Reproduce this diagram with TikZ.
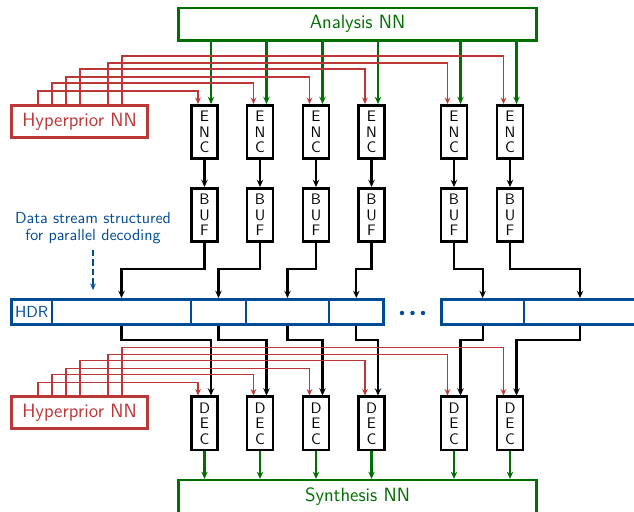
\documentclass[tikz,border=0pt]{standalone}
\usetikzlibrary{arrows.meta,calc}
\definecolor{nngreen}{RGB}{0,110,0}
\definecolor{hpred}{RGB}{190,55,55}
\definecolor{hdrblue}{RGB}{0,75,150}
\begin{document}
\begin{tikzpicture}[x=0.625pt,y=-0.625pt,
		every node/.style={font=\sffamily},
		nnbox/.style={draw,line width=1.6pt,minimum width=224pt,minimum height=20.4pt,inner sep=0pt,font=\sffamily\large},
		hpbox/.style={draw=hpred,text=hpred,line width=1.6pt,minimum width=85.3pt,minimum height=20.3pt,inner sep=0pt,font=\sffamily\large},
		codbox/.style={draw,line width=1.6pt,minimum width=16.5pt,minimum height=33.4pt,inner sep=0pt,align=center,font=\sffamily\fontsize{9.5}{9.7}\selectfont},
		segbox/.style={draw=hdrblue,line width=1.6pt,minimum height=15.9pt,inner sep=0pt},
		blk/.style={line width=1.3pt,-{Stealth[length=4.5pt,width=4pt]}},
		grn/.style={nngreen,line width=1.3pt,-{Stealth[length=4.5pt,width=4pt]}},
		hpl/.style={hpred,line width=1pt,-{Stealth[length=4pt,width=3.5pt]}}]
		\useasboundingbox (0,0) rectangle (634,512);
		
		\node[nnbox,draw=nngreen,text=nngreen] (ana) at (357.5,24.3) {Analysis NN};
		\node[nnbox,draw=nngreen,text=nngreen] (syn) at (357.5,496.5) {Synthesis NN};
		\node[hpbox] (hyp) at (79.5,121.5) {Hyperprior NN};
		\node[hpbox] (hypd) at (79.5,412.5) {Hyperprior NN};
		
		\foreach \i/\x in {1/204.5,2/260,3/316,4/371.5,5/454,6/510} {
			\node[codbox] (enc\i) at (\x,132) {E\\N\\C};
			\node[codbox] (buf\i) at (\x,215) {B\\U\\F};
			\node[codbox] (dec\i) at (\x,423.5) {D\\E\\C};
		}
		
		\node[segbox,minimum width=25.4pt,text=hdrblue] (hdr) at (31.65,312) {HDR};
		\foreach \i/\l/\r in {1/52/191,2/191/246,3/246/329,4/329/383.7,5/441.3/524,6/524/636} {
			\pgfmathsetmacro{\w}{(\r-\l)*0.625}
			\node[segbox,minimum width=\w pt] (seg\i) at ({(\l+\r)/2},312) {};
		}
		\foreach \x in {402,412.5,423}
			\fill[hdrblue] (\x,313) circle (1.4pt);
		
		\node[text=hdrblue,align=center,font=\sffamily\fontsize{10}{11}\selectfont] (note) at (93,228) {Data stream structured\\for parallel decoding};
		\draw[hdrblue,line width=0.9pt,dash pattern=on 4pt off 2pt,-{Stealth[length=4pt,width=3.5pt]},shorten >=5pt] (note.south) -- (note.south |- hdr.north);
		
		\foreach \i in {1,...,6} {
			\coordinate (ga\i) at ($(enc\i.north)+(6.5,0)$);
			\draw[grn] (ana.south -| ga\i) -- (ga\i);
			\draw[blk] (enc\i) -- (buf\i);
			\draw[blk] (buf\i.south) -- ++(0,26) -| (seg\i.north);
			\draw[blk] (seg\i.south) -- ++(0,14) -| ($(dec\i.north)+(6.5,0)$);
			\draw[grn] (dec\i.south) -- (dec\i.south |- syn.north);
		}
		
		\foreach \i/\dx/\lv in {1/-41.5/-13,2/-27.5/-21,3/-13.5/-27,4/0.5/-35,5/28.5/-41,6/42.5/-48} {
			\draw[hpl] ($(hyp.north)+(\dx,0)$) |- ($(enc\i.north)+(-6.5,\lv)$) -- ($(enc\i.north)+(-6.5,0)$);
			\draw[hpl] ($(hypd.north)+(\dx,0)$) |- ($(dec\i.north)+(-6.5,\lv)$) -- ($(dec\i.north)+(-6.5,0)$);
		}
	\end{tikzpicture}
\end{document}
